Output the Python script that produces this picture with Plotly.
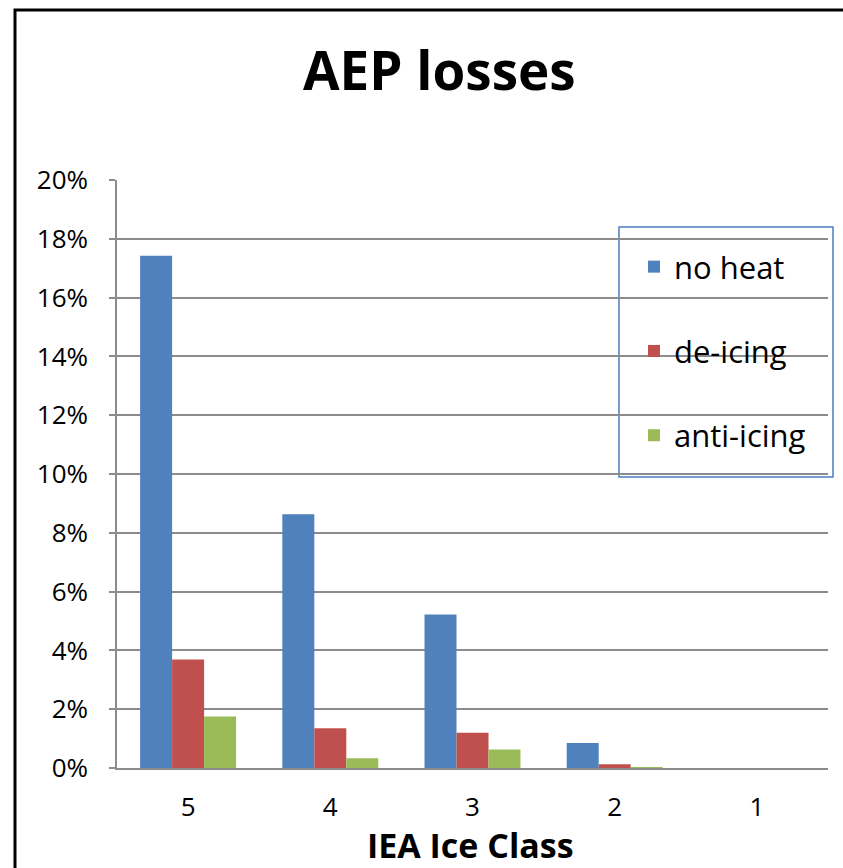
import plotly.graph_objects as go

categories = ["5", "4", "3", "2", "1"]
no_heat = [0.1742, 0.0863, 0.0522, 0.0085, 0.0]
de_icing = [0.0369, 0.0135, 0.0120, 0.0013, 0.0]
anti_icing = [0.0175, 0.0033, 0.0063, 0.0003, 0.0]
series_names = ["no heat", "de-icing", "anti-icing"]
colors = ["#4F81BD", "#C0504D", "#9BBB59"]
y_ticks = [0, 0.02, 0.04, 0.06, 0.08, 0.10, 0.12, 0.14, 0.16, 0.18, 0.20]

W, H = 843, 868
L, R, T, B = 117, 828, 180, 768

def px(x):
    return (x - L) / (R - L)

def py(y):
    return (B - y) / (B - T)

FONT = "Open Sans"

fig = go.Figure()
for i, (name, vals) in enumerate(zip(series_names, [no_heat, de_icing, anti_icing])):
    fig.add_trace(go.Bar(
        x=categories, y=vals, name=name,
        marker=dict(color=colors[i], line=dict(width=0)),
        legendgroup=name,
    ))

fig.update_layout(
    width=W, height=H,
    margin=dict(l=L, r=W - R, t=T, b=H - B),
    paper_bgcolor="white", plot_bgcolor="white",
    barmode="group", bargap=0.325, bargroupgap=0,
    font=dict(family=FONT, color="black", size=26),
    showlegend=True,
    legend=dict(
        x=px(634), y=py(240), xanchor="left", yanchor="top",
        font=dict(family=FONT, size=31, color="black"),
        bgcolor="rgba(0,0,0,0)", borderwidth=0,
        traceorder="grouped", tracegroupgap=41,
        itemclick=False,
    ),
    xaxis=dict(
        type="category", showgrid=False, showline=True,
        linecolor="#8C8C8C", linewidth=2, ticks="",
        tickfont=dict(family=FONT, size=26, color="black"),
        ticklabelstandoff=15,
    ),
    yaxis=dict(
        range=[0, 0.20], tickvals=y_ticks, tickformat=".0%",
        showgrid=True, gridcolor="#8C8C8C", gridwidth=1.5,
        showline=True, linecolor="#8C8C8C", linewidth=1.5,
        ticks="outside", ticklen=6, tickcolor="#8C8C8C", tickwidth=1.5,
        tickfont=dict(family=FONT, size=26, color="black"),
        ticklabelstandoff=16, zeroline=False,
    ),
)

# outer chart frame (extends past the right and bottom edge)
fig.add_shape(type="rect", xref="paper", yref="paper",
              x0=px(15), x1=px(W + 20), y0=py(H + 20), y1=py(10),
              line=dict(color="black", width=3), fillcolor="rgba(0,0,0,0)", layer="below")
# legend box
fig.add_shape(type="rect", xref="paper", yref="paper",
              x0=px(619), x1=px(833), y0=py(477), y1=py(227),
              line=dict(color="#4A7EBB", width=1.5), fillcolor="white", layer="below")

fig.add_annotation(text="<b>AEP losses</b>", xref="paper", yref="paper",
                   x=px(439), y=py(70), xanchor="center", yanchor="middle",
                   showarrow=False, font=dict(family=FONT, size=53, color="black"))
fig.add_annotation(text="<b>IEA Ice Class</b>", xref="paper", yref="paper",
                   x=px(470), y=py(845), xanchor="center", yanchor="middle",
                   showarrow=False, font=dict(family=FONT, size=34, color="black"))

fig.write_html("out.html", config={"displayModeBar": False},
               post_script="document.body.style.margin='0px';document.body.style.overflow='hidden';")
